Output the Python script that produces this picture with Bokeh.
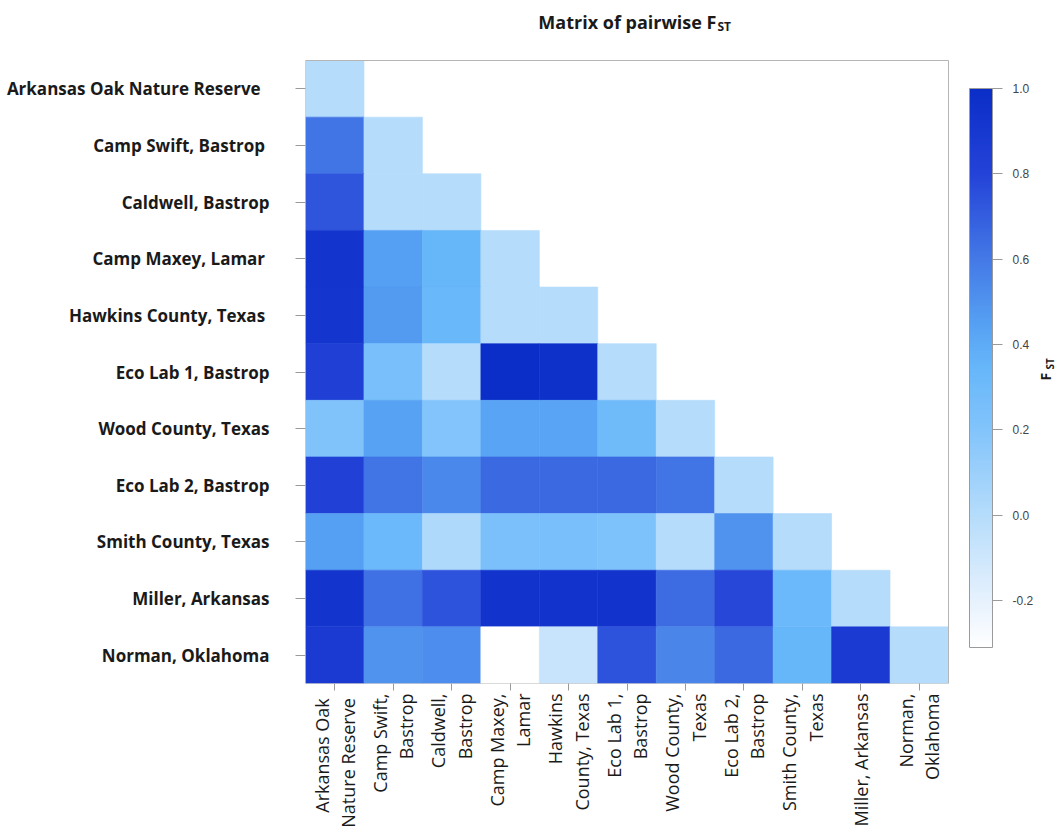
import math
from bokeh.plotting import figure
from bokeh.models import (ColumnDataSource, LinearColorMapper, ColorBar, FixedTicker,
                          Label, Range1d, PrintfTickFormatter)
from bokeh.embed import file_html
from bokeh.resources import INLINE

# ---------------- data ----------------
populations = [
    "Arkansas  Oak Nature  Reserve",
    "Camp Swift,  Bastrop",
    "Caldwell, Bastrop",
    "Camp Maxey,  Lamar",
    "Hawkins  County, Texas",
    "Eco Lab 1, Bastrop",
    "Wood County, Texas",
    "Eco Lab 2, Bastrop",
    "Smith County, Texas",
    "Miller, Arkansas",
    "Norman, Oklahoma",
]

x_tick_labels = [
    "Arkansas  Oak\nNature  Reserve",
    "Camp Swift,\nBastrop",
    "Caldwell,\nBastrop",
    "Camp Maxey,\nLamar",
    "Hawkins\nCounty, Texas",
    "Eco Lab 1,\nBastrop",
    "Wood County,\nTexas",
    "Eco Lab 2,\nBastrop",
    "Smith County,\nTexas",
    "Miller, Arkansas",
    "Norman,\nOklahoma",
]

# lower-triangle pairwise FST, one list per row (columns 0..row)
fst_arkansas_oak = [0.0]
fst_camp_swift = [0.62, 0.0]
fst_caldwell = [0.73, 0.0, 0.0]
fst_camp_maxey = [0.93, 0.45, 0.35, 0.0]
fst_hawkins = [0.92, 0.47, 0.33, 0.0, 0.0]
fst_eco_lab_1 = [0.84, 0.25, 0.0, 1.0, 0.97, 0.0]
fst_wood = [0.21, 0.44, 0.20, 0.43, 0.43, 0.30, 0.0]
fst_eco_lab_2 = [0.82, 0.62, 0.54, 0.66, 0.66, 0.66, 0.62, 0.0]
fst_smith = [0.45, 0.32, 0.03, 0.24, 0.25, 0.22, 0.0, 0.50, 0.0]
fst_miller = [0.93, 0.63, 0.74, 0.94, 0.94, 0.94, 0.65, 0.78, 0.32, 0.0]
fst_norman = [0.88, 0.50, 0.52, -0.31, -0.07, 0.74, 0.55, 0.66, 0.35, 0.88, 0.0]

fst_rows = [fst_arkansas_oak, fst_camp_swift, fst_caldwell, fst_camp_maxey, fst_hawkins,
            fst_eco_lab_1, fst_wood, fst_eco_lab_2, fst_smith, fst_miller, fst_norman]

colorbar_ticks = [-0.2, 0.0, 0.2, 0.4, 0.6, 0.8, 1.0]
color_low, color_high = -0.31, 1.0

# ---------------- palette (white -> light blue -> blue) ----------------
stops = [(-0.31, "#FFFFFF"), (-0.2, "#E6F1FD"), (0.0, "#B5DCFB"), (0.2, "#82C4FB"),
         (0.35, "#66B6FA"), (0.45, "#56A0F3"), (0.6, "#4479E6"), (0.8, "#2443D8"),
         (1.0, "#0B2EC8")]


def hex2rgb(h):
    return tuple(int(h[i:i + 2], 16) for i in (1, 3, 5))


palette = []
N = 256
for k in range(N):
    v = color_low + (color_high - color_low) * k / (N - 1)
    for (v0, c0), (v1, c1) in zip(stops[:-1], stops[1:]):
        if v0 <= v <= v1 + 1e-9:
            t = (v - v0) / (v1 - v0)
            a, b = hex2rgb(c0), hex2rgb(c1)
            rgb = [round(a[i] + (b[i] - a[i]) * t) for i in range(3)]
            palette.append("#%02x%02x%02x" % tuple(rgb))
            break

mapper = LinearColorMapper(palette=palette, low=color_low, high=color_high)

# ---------------- layout (pixels) ----------------
W, H = 1062, 833
BORDER_L, BORDER_B = 305, 150          # axis panels
MATRIX_W_PX, MATRIX_TOP_PX = 643, 60   # matrix width, gap above matrix inside the frame
n = len(populations)
frame_w = W - BORDER_L
frame_h = H - BORDER_B
matrix_h_px = frame_h - MATRIX_TOP_PX

x_range = Range1d(0, n * frame_w / MATRIX_W_PX)
y_range = Range1d(n, -n * MATRIX_TOP_PX / matrix_h_px)   # reversed: first row on top

# ---------------- cells ----------------
xs, ys, vs = [], [], []
for i, row in enumerate(fst_rows):
    for j, v in enumerate(row):
        xs.append(j + 0.5)
        ys.append(i + 0.5)
        vs.append(v)
src = ColumnDataSource(dict(x=xs, y=ys, v=vs))

p = figure(width=W, height=H, x_range=x_range, y_range=y_range,
           output_backend="svg", toolbar_location=None,
           min_border_left=BORDER_L, min_border_right=0,
           min_border_top=0, min_border_bottom=BORDER_B)

p.rect(x="x", y="y", width=1, height=1, source=src,
       fill_color={"field": "v", "transform": mapper},
       line_color={"field": "v", "transform": mapper}, line_width=0.6)

# box around the matrix
p.rect(x=[n / 2], y=[n / 2], width=n, height=n, fill_color=None,
       line_color="#b5b5b5", line_width=1)

p.grid.visible = False
p.outline_line_color = None
p.background_fill_color = "white"
p.border_fill_color = "white"

centers = [k + 0.5 for k in range(n)]

p.yaxis.ticker = FixedTicker(ticks=centers)
p.yaxis.major_label_overrides = {c: name for c, name in zip(centers, populations)}
p.yaxis.axis_line_color = None
p.yaxis.minor_tick_line_color = None
p.yaxis.major_tick_in = 0
p.yaxis.major_tick_out = 10
p.yaxis.major_tick_line_color = "#9a9a9a"
p.yaxis.major_label_standoff = 26
p.yaxis.major_label_text_font = "Open Sans"
p.yaxis.major_label_text_font_style = "bold"
p.yaxis.major_label_text_font_size = "17px"
p.yaxis.major_label_text_color = "#1a1a1a"

p.xaxis.ticker = FixedTicker(ticks=centers)
p.xaxis.major_label_overrides = {c: lab for c, lab in zip(centers, x_tick_labels)}
p.xaxis.axis_line_color = None
p.xaxis.minor_tick_line_color = None
p.xaxis.major_tick_in = 0
p.xaxis.major_tick_out = 7
p.xaxis.major_tick_line_color = "#9a9a9a"
p.xaxis.major_label_orientation = math.pi / 2
p.xaxis.major_label_standoff = 3
p.xaxis.major_label_text_font = "Open Sans"
p.xaxis.major_label_text_font_size = "18px"
p.xaxis.major_label_text_line_height = 1.1
p.xaxis.major_label_text_color = "#1a1a1a"

# title (inside the frame, above the matrix)
p.add_layout(Label(x=411, y=662, x_units="screen", y_units="screen",
                   text="Matrix of pairwise F", text_align="right",
                   text_baseline="alphabetic", text_font="Open Sans",
                   text_font_style="bold", text_font_size="18px", text_color="#1a1a1a"))
p.add_layout(Label(x=412, y=657, x_units="screen", y_units="screen",
                   text="ST", text_align="left", text_baseline="alphabetic",
                   text_font="Open Sans", text_font_style="bold",
                   text_font_size="12px", text_color="#1a1a1a"))

# colour bar
cb = ColorBar(color_mapper=mapper, ticker=FixedTicker(ticks=colorbar_ticks),
              formatter=PrintfTickFormatter(format="%.1f"),
              width=23, height=559, padding=0, margin=0,
              location=(664, 36),
              bar_line_color="#9a9a9a", major_tick_in=0, major_tick_out=10,
              major_tick_line_color="#9a9a9a", minor_tick_line_color=None,
              label_standoff=10, major_label_text_font="Liberation Sans",
              major_label_text_font_size="12px", major_label_text_color="#444444",
              background_fill_color=None, border_line_color=None)
p.add_layout(cb)

# colour bar title F_ST (rotated)
p.add_layout(Label(x=740, y=303, x_units="screen", y_units="screen",
                   text="F", angle=math.pi / 2, text_align="left",
                   text_baseline="alphabetic", text_font="Open Sans",
                   text_font_style="bold", text_font_size="14px", text_color="#1a1a1a"))
p.add_layout(Label(x=744, y=314, x_units="screen", y_units="screen",
                   text="ST", angle=math.pi / 2, text_align="left",
                   text_baseline="alphabetic", text_font="Open Sans",
                   text_font_style="bold", text_font_size="10px", text_color="#1a1a1a"))

open("out.html", "w").write(file_html(p, INLINE))
